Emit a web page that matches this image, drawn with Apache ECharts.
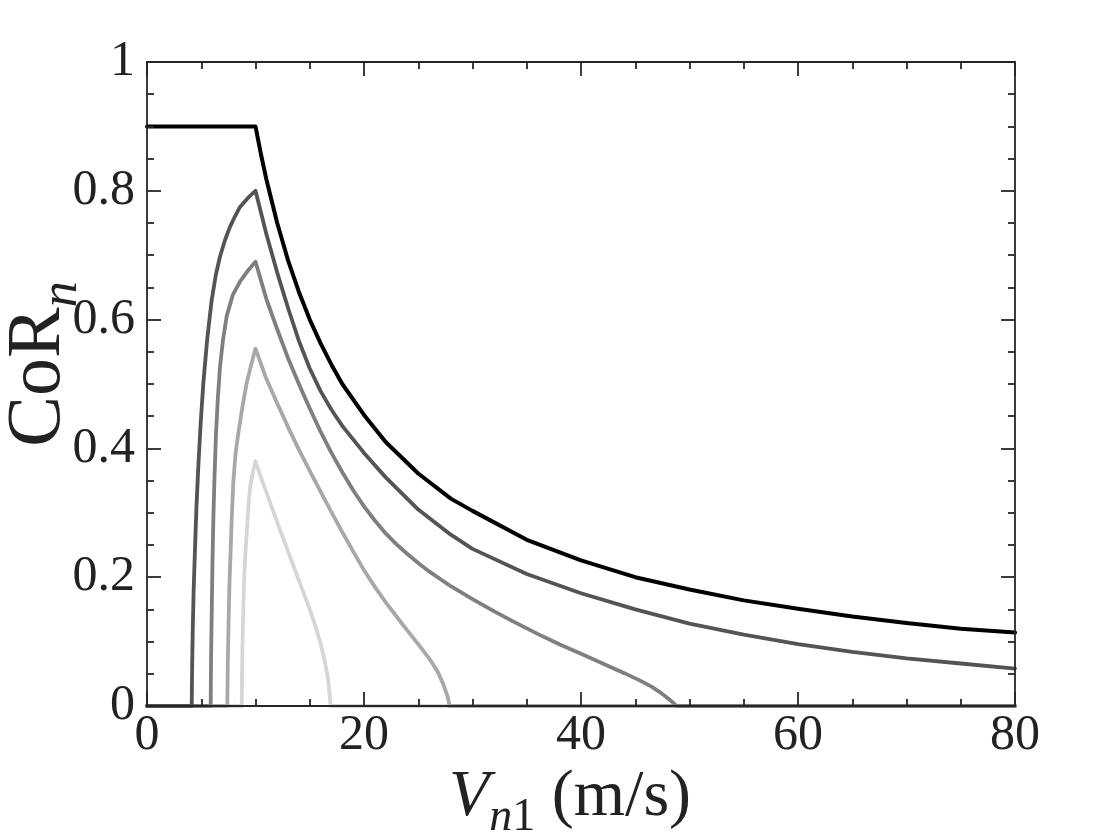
<!DOCTYPE html>
<html>
<head>
<meta charset="utf-8">
<script src="https://cdn.jsdelivr.net/npm/echarts@6/dist/echarts.min.js"></script>
<style>
html,body{margin:0;padding:0;background:#fff;}
#chart{width:1120px;height:840px;}
</style>
</head>
<body>
<div id="chart"></div>
<script>
// Tick values
const xTicks = [0, 20, 40, 60, 80];
const yTicks = [0, 0.2, 0.4, 0.6, 0.8, 1];

// Curves [V_n1, CoR_n]
const curveTop = [[0,0.9],[10,0.9],[10.5,0.857],[11,0.818],[12,0.75],[13,0.692],[14,0.643],[15,0.6],[16,0.563],[17,0.53],[18,0.5],[20,0.452],[22,0.41],[25,0.361],[28,0.322],[30,0.303],[35,0.258],[40,0.226],[45,0.2],[50,0.181],[55,0.164],[60,0.151],[65,0.139],[70,0.129],[75,0.12],[80,0.114]];

const curve080 = [[0,0],[4.12,0],[4.16,0.06],[4.21,0.113],[4.3,0.18],[4.42,0.242],[4.56,0.31],[4.73,0.372],[4.95,0.44],[5.19,0.501],[5.55,0.57],[5.96,0.63],[6.35,0.67],[6.73,0.698],[7.2,0.724],[7.65,0.744],[8.1,0.76],[8.57,0.775],[9.3,0.789],[10,0.8],[11,0.733],[12,0.673],[13,0.618],[14,0.567],[15,0.524],[16,0.489],[17,0.46],[18,0.435],[20,0.393],[22,0.355],[25,0.305],[28,0.266],[30,0.244],[35,0.205],[40,0.175],[45,0.15],[50,0.128],[55,0.111],[60,0.096],[65,0.084],[70,0.074],[75,0.066],[80,0.058]];

const curve069 = [[0,0],[5.87,0],[5.9,0.07],[5.96,0.139],[6.03,0.22],[6.12,0.294],[6.23,0.36],[6.36,0.423],[6.53,0.478],[6.73,0.527],[7.0,0.568],[7.34,0.605],[7.9,0.638],[8.57,0.659],[9.3,0.676],[10,0.69],[11,0.632],[12,0.585],[13,0.54],[14,0.5],[15,0.462],[16,0.426],[17,0.393],[18,0.363],[19,0.335],[20,0.31],[21,0.288],[22,0.268],[23,0.251],[24,0.236],[25,0.222],[26,0.209],[28,0.186],[30,0.166],[32,0.147],[34,0.129],[36,0.112],[38,0.096],[40,0.081],[42,0.066],[44,0.051],[45.5,0.039],[46.5,0.03],[47.4,0.02],[48,0.012],[48.5,0.005],[48.8,0],[80,0]];

const curve055 = [[0,0],[7.4,0],[7.45,0.07],[7.53,0.139],[7.61,0.195],[7.71,0.242],[7.82,0.295],[7.95,0.346],[8.15,0.39],[8.41,0.423],[8.8,0.465],[9.18,0.501],[9.6,0.53],[10,0.555],[11,0.508],[12,0.47],[13,0.433],[14,0.398],[15,0.365],[16,0.333],[17,0.301],[18,0.27],[19,0.24],[20,0.211],[21,0.185],[22,0.161],[23,0.139],[24,0.117],[25,0.096],[26,0.074],[26.8,0.053],[27.3,0.034],[27.7,0.015],[27.9,0],[80,0]];

const curve038 = [[0,0],[8.73,0],[8.76,0.05],[8.79,0.087],[8.86,0.14],[8.94,0.19],[9.05,0.232],[9.19,0.269],[9.35,0.31],[9.5,0.34],[9.75,0.362],[10,0.38],[10.5,0.355],[11,0.332],[12,0.285],[13,0.24],[14,0.195],[15,0.15],[15.5,0.125],[16,0.097],[16.4,0.068],[16.7,0.04],[16.85,0.015],[16.9,0],[80,0]];

const curves = [
  {data: curve038, color: '#d6d6d6', width: 3.8},
  {data: curve055, color: '#a8a8a8', width: 3.8},
  {data: curve069, color: '#7f7f7f', width: 3.8},
  {data: curve080, color: '#545454', width: 3.8},
  {data: curveTop, color: '#000000', width: 4}
];

const FONT = 'Liberation Serif';
const INK = '#222';
const axisLine = {show: true, onZero: false, lineStyle: {color: '#262626', width: 1.8}};
const tick = {show: true, inside: true, length: 14, lineStyle: {color: '#262626', width: 1.8}};
const minor = {show: true, splitNumber: 4, length: 7, lineStyle: {color: '#262626', width: 1.8}};

const chart = echarts.init(document.getElementById('chart'));
chart.setOption({
  backgroundColor: '#ffffff',
  animation: false,
  grid: {left: 147, right: 105, top: 62, bottom: 134, containLabel: false, outerBoundsMode: 'none'},
  xAxis: [
    {
      type: 'value', min: xTicks[0], max: xTicks[xTicks.length-1], interval: 20,
      position: 'bottom', z: 5,
      axisLine: axisLine, axisTick: tick, minorTick: minor, splitLine: {show: false},
      axisLabel: {fontFamily: FONT, fontSize: 50, color: INK, margin: 5},
      name: '{i|V}{si|n}{s|1}{t| (m/s)}',
      nameLocation: 'middle', nameGap: 53, nameMoveOverlap: false,
      nameTextStyle: {
        rich: {
          i: {fontFamily: FONT, fontStyle: 'italic', fontSize: 66, color: INK, verticalAlign: 'bottom', lineHeight: 72},
          si: {fontFamily: FONT, fontStyle: 'italic', fontSize: 46, color: INK, verticalAlign: 'bottom', padding: [0,0,-10,0], lineHeight: 72},
          s: {fontFamily: FONT, fontSize: 46, color: INK, verticalAlign: 'bottom', padding: [0,0,-10,0], lineHeight: 72},
          t: {fontFamily: FONT, fontSize: 66, color: INK, verticalAlign: 'bottom', lineHeight: 72, padding: [0,22,0,0]}
        }
      }
    },
    {
      type: 'value', min: xTicks[0], max: xTicks[xTicks.length-1], interval: 20,
      position: 'top', z: 5,
      axisLine: axisLine, axisTick: tick, minorTick: minor, splitLine: {show: false},
      axisLabel: {show: false}
    }
  ],
  yAxis: [
    {
      type: 'value', min: yTicks[0], max: yTicks[yTicks.length-1], interval: 0.2,
      position: 'left', z: 5,
      axisLine: axisLine, axisTick: tick, minorTick: minor, splitLine: {show: false},
      axisLabel: {fontFamily: FONT, fontSize: 50, color: INK, margin: 12},
      name: '{t|CoR}{si|n}',
      nameLocation: 'middle', nameGap: 70, nameMoveOverlap: false,
      nameTextStyle: {
        rich: {
          t: {fontFamily: FONT, fontSize: 76, color: INK, verticalAlign: 'bottom', lineHeight: 80, padding: [0,0,0,40]},
          si: {fontFamily: FONT, fontStyle: 'italic', fontSize: 52, color: INK, verticalAlign: 'bottom', padding: [0,0,-11,0], lineHeight: 80}
        }
      }
    },
    {
      type: 'value', min: yTicks[0], max: yTicks[yTicks.length-1], interval: 0.2,
      position: 'right', z: 5,
      axisLine: axisLine, axisTick: tick, minorTick: minor, splitLine: {show: false},
      axisLabel: {show: false}
    }
  ],
  series: curves.map(c => ({
    type: 'line', xAxisIndex: 0, yAxisIndex: 0,
    data: c.data, showSymbol: false, symbol: 'none', smooth: false,
    clip: false,
    lineStyle: {color: c.color, width: c.width, join: 'round', cap: 'round'}
  }))
});
</script>
</body>
</html>
